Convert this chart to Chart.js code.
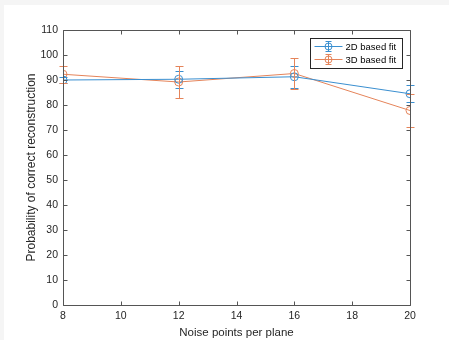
<!DOCTYPE html>
<html><head><meta charset="utf-8">
<script src="https://cdn.jsdelivr.net/npm/chart.js@4/dist/chart.umd.min.js"></script>
<style>
html,body{margin:0;padding:0;background:#f5f5f5;width:449px;height:340px;overflow:hidden}
#wrap{position:absolute;left:4px;top:5px;width:445px;height:335px;background:#fff}
</style></head><body>
<div id="wrap"><canvas id="c" width="445" height="335"></canvas></div>
<script>
const noisePoints = [8, 12, 16, 20];
const fit2D = [90.0, 90.3, 91.3, 84.5];
const err2D = [1.3, 3.4, 4.5, 3.4];
const fit3D = [92.3, 89.2, 92.6, 77.8];
const err3D = [3.4, 6.5, 6.3, 6.8];
const xTicks = [8, 10, 12, 14, 16, 18, 20];
const yTicks = [0, 10, 20, 30, 40, 50, 60, 70, 80, 90, 100, 110];
const seriesNames = ['2D based fit', '3D based fit'];
const BLUE = '#3a8fd0', ORANGE = '#e5845a', AX = '#262626';
const FONT = '"Liberation Sans", Arial, sans-serif';

function pts(vals){ return noisePoints.map((x,i)=>({x:x,y:vals[i]})); }

const errorBars = {
  id:'errorBars',
  afterDatasetsDraw(chart){
    const ctx = chart.ctx, xs = chart.scales.x, ys = chart.scales.y;
    const errs = [err2D, err3D];
    chart.data.datasets.forEach((ds,di)=>{
      ctx.save(); ctx.strokeStyle = ds.borderColor; ctx.lineWidth = 1;
      ds.data.forEach((p,i)=>{
        const px = Math.round(xs.getPixelForValue(p.x))+0.5;
        const top = Math.round(ys.getPixelForValue(p.y+errs[di][i]))+0.5;
        const bot = Math.round(ys.getPixelForValue(p.y-errs[di][i]))+0.5;
        ctx.beginPath();
        ctx.moveTo(px,top); ctx.lineTo(px,bot);
        ctx.moveTo(px-4,top); ctx.lineTo(px+4,top);
        ctx.moveTo(px-4,bot); ctx.lineTo(px+4,bot);
        ctx.stroke();
      });
      ctx.restore();
    });
  }
};

const boxTicks = {
  id:'boxTicks',
  afterDraw(chart){
    const ctx = chart.ctx, a = chart.chartArea, xs = chart.scales.x, ys = chart.scales.y;
    ctx.save(); ctx.strokeStyle = '#555'; ctx.lineWidth = 1;
    const L = Math.round(a.left)+0.5, R = Math.round(a.right)+0.5, T = Math.round(a.top)+0.5, B = Math.round(a.bottom)+0.5;
    ctx.beginPath(); ctx.rect(L,T,R-L,B-T); ctx.stroke();
    ctx.beginPath();
    xTicks.forEach(v=>{ const px = Math.round(xs.getPixelForValue(v))+0.5;
      ctx.moveTo(px,B); ctx.lineTo(px,B-4); ctx.moveTo(px,T); ctx.lineTo(px,T+4); });
    yTicks.forEach(v=>{ const py = Math.round(ys.getPixelForValue(v))+0.5;
      ctx.moveTo(L,py); ctx.lineTo(L+4,py); ctx.moveTo(R,py); ctx.lineTo(R-4,py); });
    ctx.stroke();
    // legend
    const lx = 306.5, ly = 33.5, lw = 92, lh = 30;
    ctx.fillStyle = '#fff'; ctx.fillRect(lx,ly,lw,lh);
    ctx.strokeStyle = '#262626'; ctx.strokeRect(lx,ly,lw,lh);
    ctx.font = '9.5px ' + FONT; ctx.textBaseline = 'middle'; ctx.textAlign='left';
    [BLUE, ORANGE].forEach((c,i)=>{
      const yy = ly + 8 + i*13;
      ctx.strokeStyle = c; ctx.beginPath();
      ctx.moveTo(lx+4,yy); ctx.lineTo(lx+32,yy);
      ctx.moveTo(lx+18,yy-5); ctx.lineTo(lx+18,yy+5);
      ctx.moveTo(lx+15,yy-5); ctx.lineTo(lx+21,yy-5);
      ctx.moveTo(lx+15,yy+5); ctx.lineTo(lx+21,yy+5);
      ctx.stroke();
      ctx.beginPath(); ctx.arc(lx+18,yy,3.5,0,Math.PI*2); ctx.stroke();
      ctx.fillStyle = '#000'; ctx.fillText(seriesNames[i], lx+35, yy+0.5);
    });
    ctx.restore();
  }
};

new Chart(document.getElementById('c'), {
  type:'line',
  data:{ datasets:[
    {label:seriesNames[0], data:pts(fit2D), borderColor:BLUE, backgroundColor:'transparent', borderWidth:1, pointRadius:4, pointBorderWidth:1, pointBackgroundColor:'transparent', pointBorderColor:BLUE, tension:0},
    {label:seriesNames[1], data:pts(fit3D), borderColor:ORANGE, backgroundColor:'transparent', borderWidth:1, pointRadius:4, pointBorderWidth:1, pointBackgroundColor:'transparent', pointBorderColor:ORANGE, tension:0}
  ]},
  options:{
    responsive:false, animation:false, devicePixelRatio:1,
    layout:{padding:{left:0,top:25,right:39,bottom:0}},
    plugins:{legend:{display:false}, tooltip:{enabled:false}},
    scales:{
      x:{type:'linear', min:8, max:20,
        afterBuildTicks:s=>{s.ticks = xTicks.map(v=>({value:v}));},
        afterFit:s=>{s.height = 35;},
        grid:{display:false, drawTicks:false}, border:{display:false},
        ticks:{color:AX, font:{family:FONT, size:10.5}, padding:5, maxRotation:0},
        title:{display:true, text:'Noise points per plane', color:AX, font:{family:FONT, size:11.5}, padding:{top:1,bottom:0}}
      },
      y:{type:'linear', min:0, max:110,
        afterBuildTicks:s=>{s.ticks = yTicks.map(v=>({value:v}));},
        afterFit:s=>{s.width = 59;},
        grid:{display:false, drawTicks:false}, border:{display:false},
        ticks:{color:AX, font:{family:FONT, size:10.5}, padding:5},
        title:{display:true, text:'Probability of correct reconstruction', color:AX, font:{family:FONT, size:12}, padding:{top:20,bottom:0}}
      }
    }
  },
  plugins:[errorBars, boxTicks]
});
</script></body></html>
